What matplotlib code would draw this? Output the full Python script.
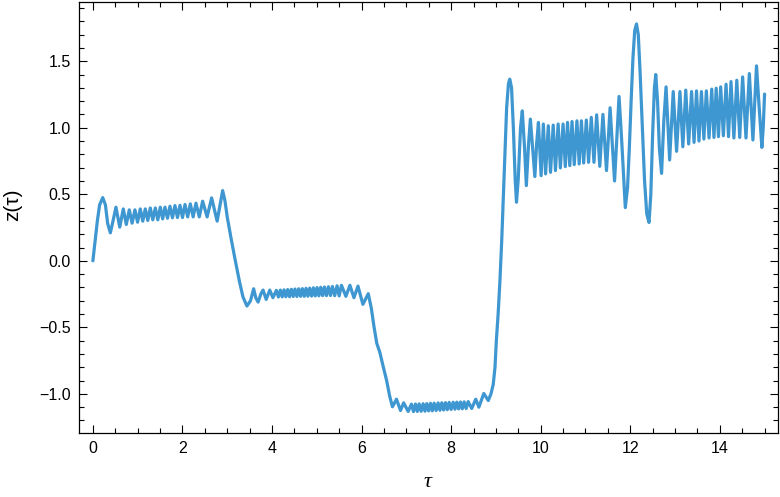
import numpy as np
import matplotlib
matplotlib.use("Agg")
import matplotlib.pyplot as plt
from matplotlib.ticker import MultipleLocator

# values, segment by segment (tau, z)
# first plateau, 0 .. 3.44
tau_a = [0, 0.05, 0.10, 0.15, 0.22, 0.28, 0.33, 0.39, 0.45, 0.515, 0.60, 0.679, 0.746,
         0.813, 0.876, 0.939, 0.998, 1.058, 1.114, 1.170, 1.226, 1.282, 1.338, 1.394,
         1.450, 1.505, 1.558, 1.610, 1.666, 1.721, 1.777, 1.833, 1.889, 1.945, 2.001,
         2.057, 2.117, 2.176, 2.239, 2.302, 2.376, 2.451, 2.551, 2.652, 2.775, 2.898,
         2.95, 3.00, 3.08, 3.17, 3.27, 3.35, 3.44]
z_a = [0, 0.15, 0.30, 0.42, 0.475, 0.42, 0.28, 0.21, 0.30, 0.403, 0.253, 0.39, 0.273,
       0.383, 0.283, 0.383, 0.29, 0.39, 0.298, 0.39, 0.303, 0.397, 0.308, 0.397,
       0.308, 0.403, 0.315, 0.403, 0.32, 0.41, 0.323, 0.415, 0.325, 0.417, 0.325,
       0.423, 0.33, 0.428, 0.33, 0.433, 0.33, 0.448, 0.33, 0.473, 0.298, 0.528,
       0.45, 0.33, 0.18, 0.02, -0.15, -0.27, -0.34]

# second plateau, 3.5 .. 6.15
tau_b = [3.52, 3.59, 3.64, 3.69, 3.75, 3.80, 3.87, 3.95, 4.02, 4.098, 4.142, 4.187,
         4.228, 4.269, 4.310, 4.351, 4.392, 4.433, 4.474, 4.514, 4.556, 4.597, 4.638,
         4.679, 4.720, 4.760, 4.801, 4.842, 4.884, 4.925, 4.966, 5.006, 5.047, 5.088,
         5.130, 5.171, 5.215, 5.260, 5.305, 5.349, 5.400, 5.453, 5.500, 5.551, 5.65,
         5.74, 5.83, 5.92, 6.03, 6.15]
z_b = [-0.30, -0.21, -0.28, -0.31, -0.25, -0.22, -0.29, -0.22, -0.277, -0.222, -0.272,
       -0.220, -0.271, -0.218, -0.270, -0.216, -0.270, -0.214, -0.268, -0.212, -0.268,
       -0.210, -0.267, -0.209, -0.267, -0.207, -0.266, -0.205, -0.265, -0.203, -0.264,
       -0.201, -0.263, -0.199, -0.262, -0.197, -0.262, -0.195, -0.261, -0.193, -0.262,
       -0.188, -0.264, -0.184, -0.267, -0.184, -0.277, -0.19, -0.327, -0.247]

# drop and lowest plateau, 6.2 .. 9.31
tau_c = [6.22, 6.28, 6.34, 6.41, 6.48, 6.56, 6.63, 6.69, 6.78, 6.87, 6.94, 7.04, 7.114,
         7.159, 7.204, 7.245, 7.286, 7.330, 7.375, 7.416, 7.457, 7.498, 7.539, 7.580,
         7.621, 7.665, 7.710, 7.751, 7.792, 7.833, 7.874, 7.915, 7.956, 8.000, 8.045,
         8.086, 8.127, 8.168, 8.209, 8.250, 8.291, 8.336, 8.381, 8.46, 8.55, 8.62,
         8.73, 8.83, 8.89, 8.94, 8.98, 9.01, 9.05, 9.09, 9.13, 9.16, 9.20, 9.24, 9.28,
         9.31]
z_c = [-0.36, -0.50, -0.62, -0.69, -0.79, -0.90, -1.02, -1.097, -1.04, -1.125, -1.067,
       -1.132, -1.077, -1.133, -1.076, -1.132, -1.075, -1.131, -1.074, -1.130, -1.073,
       -1.128, -1.071, -1.127, -1.070, -1.125, -1.068, -1.123, -1.067, -1.121, -1.066,
       -1.119, -1.064, -1.117, -1.063, -1.115, -1.062, -1.113, -1.061, -1.112, -1.060,
       -1.110, -1.058, -1.11, -1.04, -1.10, -0.997, -1.05, -1.0, -0.93, -0.80, -0.60,
       -0.40, -0.15, 0.15, 0.42, 0.80, 1.15, 1.33, 1.365]

# upper band, 9.35 .. 11.89
tau_d = [9.35, 9.39, 9.43, 9.46, 9.50, 9.55, 9.59, 9.64, 9.68, 9.73, 9.77, 9.82, 9.87,
         9.91, 9.95, 10.01, 10.06, 10.11, 10.17, 10.22, 10.28, 10.33, 10.39, 10.44,
         10.50, 10.55, 10.60, 10.65, 10.70, 10.75, 10.81, 10.86, 10.91, 10.96, 11.02,
         11.07, 11.13, 11.19, 11.25, 11.32, 11.39, 11.47, 11.55, 11.65, 11.75, 11.81,
         11.89]
z_d = [1.30, 1.00, 0.62, 0.44, 0.62, 1.00, 1.127, 0.85, 0.565, 0.88, 1.065, 0.85,
       0.633, 0.88, 1.04, 0.64, 1.028, 0.653, 1.015, 0.665, 1.02, 0.678, 1.028, 0.698,
       1.028, 0.708, 1.04, 0.715, 1.047, 0.723, 1.052, 0.728, 1.052, 0.735, 1.058,
       0.74, 1.078, 0.74, 1.097, 0.71, 1.10, 0.678, 1.15, 0.60, 1.235, 0.90, 0.40]

# big swing and last band, 11.94 .. 15
tau_e = [11.94, 11.98, 12.02, 12.06, 12.10, 12.14, 12.18, 12.22, 12.27, 12.32, 12.37,
         12.42, 12.46, 12.50, 12.54, 12.57, 12.61, 12.65, 12.70, 12.75, 12.80, 12.88,
         12.96, 13.035, 13.11, 13.175, 13.24, 13.305, 13.37, 13.425, 13.48, 13.535,
         13.59, 13.645, 13.70, 13.76, 13.82, 13.87, 13.92, 13.97, 14.02, 14.08, 14.14,
         14.195, 14.25, 14.315, 14.38, 14.445, 14.51, 14.585, 14.66, 14.74, 14.82,
         14.88, 14.94, 14.97, 15.0]
z_e = [0.55, 0.85, 1.20, 1.52, 1.73, 1.78, 1.70, 1.42, 1.00, 0.60, 0.35, 0.288, 0.50,
       0.95, 1.30, 1.40, 1.20, 0.85, 0.657, 1.05, 1.307, 0.758, 1.272, 0.823, 1.272,
       0.857, 1.283, 0.878, 1.272, 0.89, 1.277, 0.90, 1.272, 0.915, 1.277, 0.923,
       1.29, 0.927, 1.297, 0.933, 1.307, 0.94, 1.327, 0.933, 1.347, 0.923, 1.357,
       0.927, 1.382, 0.923, 1.407, 0.908, 1.465, 1.15, 0.852, 1.00, 1.253]

tau = np.array(tau_a + tau_b + tau_c + tau_d + tau_e)
z = np.array(z_a + z_b + z_c + z_d + z_e)

plt.rcParams['font.family'] = ['Liberation Sans', 'DejaVu Sans']

fig = plt.figure(figsize=(7.8, 4.97), dpi=100)
ax = fig.add_axes([79 / 780, 64 / 497, 699 / 780, 431 / 497])

ax.plot(tau, z, color='#3e97d0', lw=2.3, solid_joinstyle='round', solid_capstyle='round')

ax.set_xlim(-0.31, 15.3)
ax.set_ylim(-1.294, 1.945)

ax.xaxis.set_major_locator(MultipleLocator(2))
ax.xaxis.set_minor_locator(MultipleLocator(0.5))
ax.yaxis.set_major_locator(MultipleLocator(0.5))
ax.yaxis.set_minor_locator(MultipleLocator(0.1))

ax.tick_params(which='both', direction='in', top=True, right=True, width=0.8, color='black')
ax.tick_params(which='major', length=6, labelsize=11.5, pad=6)
ax.tick_params(which='minor', length=3.5)
for s in ax.spines.values():
    s.set_linewidth(0.9)

ax.set_xlabel('τ', fontsize=16, family=['Liberation Serif', 'DejaVu Serif'], style='italic')
ax.set_ylabel('z(τ)', fontsize=15)
ax.xaxis.set_label_coords(0.499, -0.093)
ax.yaxis.set_label_coords(-0.082, 0.53)

fig.savefig('out.png', dpi=100)
